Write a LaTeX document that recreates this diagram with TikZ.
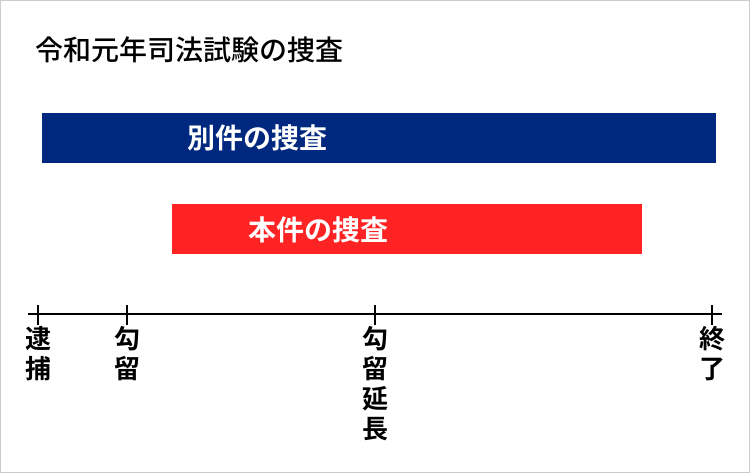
\documentclass[tikz,border=0pt]{standalone}
\usepackage{fontspec}
\setmainfont{Noto Sans CJK JP}[BoldFont={Noto Sans CJK JP Bold}]
\newfontfamily\jpmed{Noto Sans CJK JP Medium}
\definecolor{barblue}{HTML}{00287F}
\definecolor{barred}{HTML}{FF2323}
\definecolor{frame}{HTML}{CCCCCC}
\begin{document}
\begin{tikzpicture}[x=1pt,y=-1pt,
  bar/.style={draw=none,minimum height=50pt,inner sep=0pt,anchor=north west},
  bartext/.style={text=white,font=\fontsize{28}{30}\selectfont\bfseries,inner sep=0pt},
  ticklabel/.style={anchor=north,align=center,inner sep=0pt,font=\fontsize{26}{30}\selectfont\bfseries},
  axis/.style={line width=2.6pt,black}]
\useasboundingbox (0,0) rectangle (750,473);
\draw[frame,line width=1pt] (0.5,0.5) rectangle (749.5,472.5);
\node[anchor=west,inner sep=0pt,font=\jpmed\fontsize{28}{30}\selectfont] (title) at (35,50) {令和元年司法試験の捜査};
\node[bar,fill=barblue,minimum width=674pt] (blue) at (42,113) {};
\node[bartext] (bluetext) at (257,138) {別件の捜査};
\node[bar,fill=barred,minimum width=470pt] (red) at (172,204) {};
\node[bartext] (redtext) at (318,230) {本件の捜査};
\coordinate (L) at (28,314);
\coordinate (R) at (722,314);
\coordinate (t1) at (38,314);
\coordinate (t2) at (127,314);
\coordinate (t3) at (375,314);
\coordinate (t4) at (712,314);
\draw[axis] (L) -- (R);
\foreach \t in {t1,t2,t3,t4}{\draw[axis] ([yshift=-11pt]\t) -- ([yshift=9pt]\t);}
\node[ticklabel] (l1) at (38,326) {逮\\捕};
\node[ticklabel] (l2) at (127,326) {勾\\留};
\node[ticklabel] (l3) at (375,326) {勾\\留\\延\\長};
\node[ticklabel] (l4) at (712,326) {終\\了};
\end{tikzpicture}
\end{document}
